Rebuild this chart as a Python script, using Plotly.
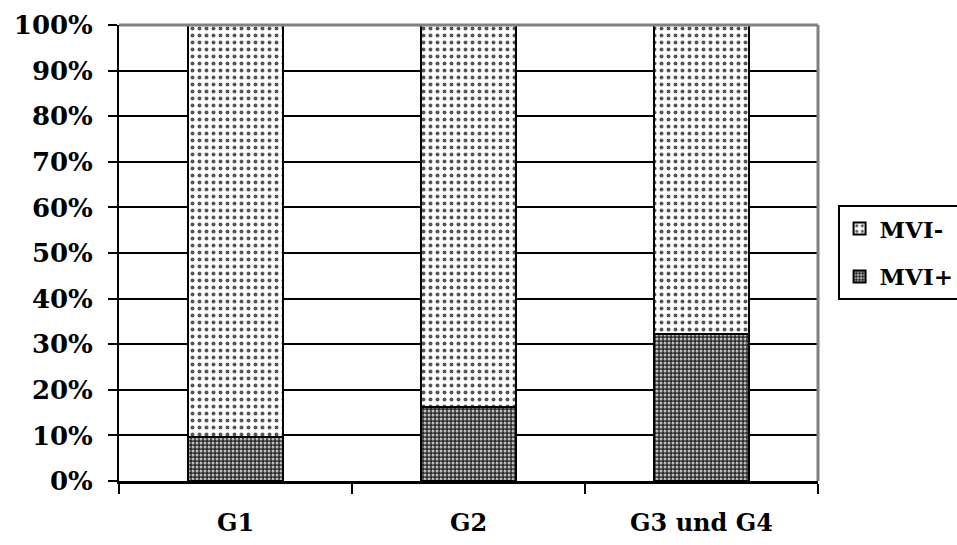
import plotly.graph_objects as go

# Share of patients with and without microvascular invasion per group
groups = ["G1", "G2", "G3 und G4"]
mvi_pos = [9.6, 16.3, 32.2]
mvi_neg = [100 - v for v in mvi_pos]
y_ticks = list(range(0, 101, 10))
y_tick_text = [f"{v}%" for v in y_ticks]

FONT = "DejaVu Serif"

fig = go.Figure()

fig.add_trace(go.Bar(
    name="MVI+",
    legendgroup="pos",
    legendrank=2,
    x=groups,
    y=mvi_pos,
    width=0.405,
    marker=dict(
        color="#333333",
        line=dict(color="black", width=2),
        pattern=dict(shape=".", bgcolor="#2a2a2a", fgcolor="#bbbbbb",
                     size=4, solidity=0.45, fillmode="replace"),
    ),
))

fig.add_trace(go.Bar(
    name="MVI-",
    legendgroup="neg",
    legendrank=1,
    x=groups,
    y=mvi_neg,
    width=0.405,
    marker=dict(
        color="white",
        line=dict(color="black", width=2),
        pattern=dict(shape=".", bgcolor="white", fgcolor="#555555",
                     size=7, solidity=0.25, fillmode="replace"),
    ),
))

fig.update_layout(
    barmode="stack",
    width=957,
    height=545,
    margin=dict(l=119, r=139, t=25, b=64, autoexpand=False),
    paper_bgcolor="white",
    plot_bgcolor="white",
    font=dict(family=FONT, size=24, color="black"),
    showlegend=True,
    legend=dict(
        x=1.028, y=0.605, xanchor="left", yanchor="top",
        traceorder="grouped",
        tracegroupgap=15,
        bordercolor="black", borderwidth=2,
        font=dict(family=FONT, size=23, color="black", weight="bold"),
        itemwidth=30,
    ),
    xaxis=dict(
        showline=True, linecolor="black", linewidth=3,
        ticks="outside", tickson="boundaries", ticklen=10, tickwidth=2,
        tickcolor="black",
        ticklabelstandoff=18,
        tickfont=dict(family=FONT, size=24, color="black", weight="bold"),
        showgrid=False,
    ),
    yaxis=dict(
        range=[0, 100],
        tickvals=y_ticks,
        ticktext=y_tick_text,
        showline=True, linecolor="black", linewidth=2,
        ticks="outside", ticklen=9, tickwidth=2, tickcolor="black",
        ticklabelstandoff=10,
        showgrid=True, gridcolor="black", gridwidth=2,
        zeroline=False,
        tickfont=dict(family=FONT, size=26, color="black", weight="bold"),
    ),
    shapes=[
        # gray frame along the top and right edge of the plot area
        dict(type="line", xref="paper", yref="paper", x0=0, x1=1, y0=1, y1=1,
             line=dict(color="#808080", width=3), layer="above"),
        dict(type="line", xref="paper", yref="paper", x0=1, x1=1, y0=0, y1=1,
             line=dict(color="#808080", width=3), layer="above"),
    ],
)

fig.write_html("out.html")
